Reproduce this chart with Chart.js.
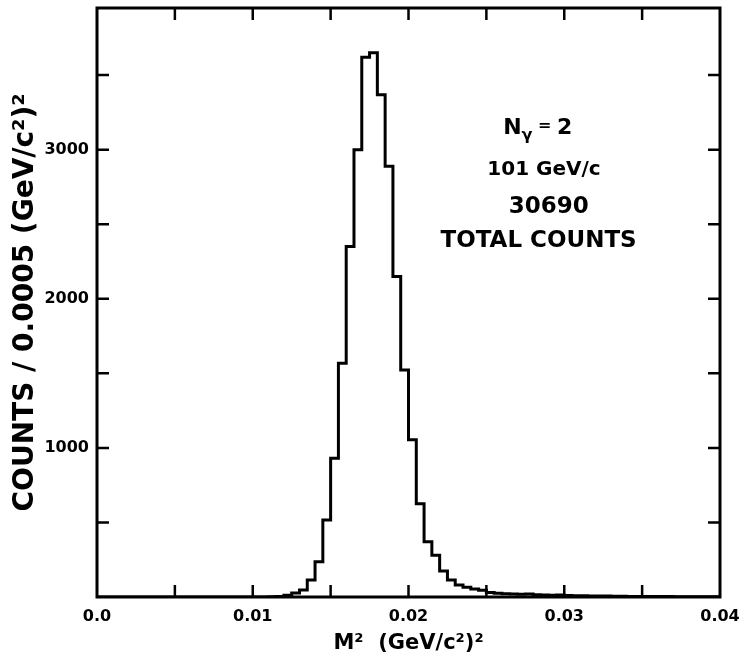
<!DOCTYPE html>
<html>
<head>
<meta charset="utf-8">
<script src="https://cdn.jsdelivr.net/npm/chart.js@4"></script>
<style>
  html, body { margin: 0; padding: 0; background: #fff; }
  #wrap { width: 745px; height: 663px; }
</style>
</head>
<body>
<div id="wrap"><canvas id="histChart"></canvas></div>
<script>
/* DADOS */
const binWidth = 0.0005;
// counts per 0.0005 bin, bins starting at 0.0, 0.0005, ... 0.0395
const counts = [
  0, 0, 0, 0, 0, 0, 0, 0, 0, 0,
  0, 0, 0, 0, 0, 0, 0, 0, 0, 0,
  0, 0, 1, 4, 12, 27, 47, 114, 237, 517,
  931, 1568, 2351, 3000, 3620, 3650, 3369, 2888, 2150, 1523,
  1054, 625, 371, 280, 175, 114, 80, 65, 54, 45,
  30, 25, 22, 20, 18, 20, 15, 14, 12, 14,
  10, 9, 8, 7, 6, 6, 5, 5, 4, 4,
  4, 3, 3, 3, 2, 2, 2, 2, 2, 2
];
const xTickValues = [0, 0.005, 0.01, 0.015, 0.02, 0.025, 0.03, 0.035, 0.04];
const xTickLabels = ['0.0', '', '0.01', '', '0.02', '', '0.03', '', '0.04'];
const yTickValues = [0, 500, 1000, 1500, 2000, 2500, 3000, 3500];
const yTickLabels = ['', '', '1000', '', '2000', '', '3000', ''];
const infoLines = ['101 GeV/c', '30690', 'TOTAL COUNTS'];

const X_MIN = 0, X_MAX = 0.04;
const Y_MIN = 0, Y_MAX = 3950;
const FONT = '"DejaVu Sans", sans-serif';

/* PONTOS */
const points = counts.map((c, i) => ({ x: i * binWidth, y: c }));
points.push({ x: counts.length * binWidth, y: counts[counts.length - 1] });

/* PLUGIN: moldura, ticks internos e texto */
const framePlugin = {
  id: 'frame',
  afterDraw(chart) {
    const { ctx, chartArea: a, scales } = chart;
    const xs = scales.x, ys = scales.y;
    const tick = 12;
    ctx.save();
    ctx.strokeStyle = '#000';
    ctx.lineWidth = 3;
    ctx.strokeRect(a.left, a.top, a.right - a.left, a.bottom - a.top);

    ctx.lineWidth = 2.5;
    ctx.beginPath();
    xTickValues.forEach(v => {
      if (v <= X_MIN || v >= X_MAX) return;
      const px = xs.getPixelForValue(v);
      ctx.moveTo(px, a.bottom);
      ctx.lineTo(px, a.bottom - tick);
      ctx.moveTo(px, a.top);
      ctx.lineTo(px, a.top + tick);
    });
    yTickValues.forEach(v => {
      if (v <= Y_MIN) return;
      const py = ys.getPixelForValue(v);
      ctx.moveTo(a.left, py);
      ctx.lineTo(a.left + tick, py);
      ctx.moveTo(a.right, py);
      ctx.lineTo(a.right - tick, py);
    });
    ctx.stroke();

    // texto
    ctx.fillStyle = '#000';
    ctx.textBaseline = 'middle';
    // N_gamma = 2
    const cx0 = xs.getPixelForValue(0.0283);
    const y0 = ys.getPixelForValue(3145);
    const big = 'bold 22px ' + FONT, small = 'bold 16px ' + FONT;
    ctx.font = big;
    const wN = ctx.measureText('N').width;
    const w2 = ctx.measureText('2').width;
    ctx.font = small;
    const wG = ctx.measureText('\u03B3').width;
    const wE = ctx.measureText(' = ').width;
    let sx = cx0 - (wN + wG + wE + w2) / 2;
    ctx.textAlign = 'left';
    ctx.font = big;
    ctx.fillText('N', sx, y0);
    ctx.font = small;
    ctx.fillText('\u03B3', sx + wN, y0 + 8);
    ctx.fillText(' = ', sx + wN + wG, y0 - 2);
    ctx.font = big;
    ctx.fillText('2', sx + wN + wG + wE, y0);

    ctx.textAlign = 'center';
    ctx.font = 'bold 20px ' + FONT;
    ctx.fillText(infoLines[0], xs.getPixelForValue(0.0287), ys.getPixelForValue(2865));
    ctx.font = 'bold 23px ' + FONT;
    ctx.fillText(infoLines[1], xs.getPixelForValue(0.0290), ys.getPixelForValue(2615));
    ctx.fillText(infoLines[2], xs.getPixelForValue(0.02835), ys.getPixelForValue(2388));
    ctx.restore();
  }
};

/* GRÁFICO */
const ctx = document.getElementById('histChart').getContext('2d');

const histChart = new Chart(ctx, {
  type: 'line',
  data: {
    datasets: [{
      data: points,
      stepped: 'before',
      borderColor: '#000',
      borderWidth: 3,
      pointRadius: 0,
      fill: false
    }]
  },
  options: {
    responsive: true,
    maintainAspectRatio: false,
    animation: false,
    layout: { padding: { top: 8, right: 25, left: 0, bottom: 0 } },
    plugins: {
      legend: { display: false },
      tooltip: { enabled: false }
    },
    scales: {
      x: {
        type: 'linear',
        min: X_MIN,
        max: X_MAX,
        bounds: 'data',
        grid: { display: false, drawTicks: false },
        border: { display: false },
        afterBuildTicks: s => { s.ticks = xTickValues.map(v => ({ value: v })); },
        ticks: {
          autoSkip: false,
          maxRotation: 0,
          padding: 10,
          color: '#000',
          font: { family: FONT, size: 16, weight: 'bold' },
          callback: (v, i) => xTickLabels[i]
        },
        title: {
          display: true,
          text: 'M\u00B2  (GeV/c\u00B2)\u00B2',
          color: '#000',
          font: { family: FONT, size: 21, weight: 'bold' },
          padding: { top: 0, bottom: 7 }
        },
        afterFit: s => { s.height = 66; s.paddingLeft = 0; s.paddingRight = 0; }
      },
      y: {
        type: 'linear',
        min: Y_MIN,
        max: Y_MAX,
        bounds: 'data',
        grid: { display: false, drawTicks: false },
        border: { display: false },
        afterBuildTicks: s => { s.ticks = yTickValues.map(v => ({ value: v })); },
        ticks: {
          autoSkip: false,
          padding: 8,
          color: '#000',
          font: { family: FONT, size: 16, weight: 'bold' },
          callback: (v, i) => yTickLabels[i]
        },
        title: {
          display: true,
          text: 'COUNTS / 0.0005 (GeV/c\u00B2)\u00B2',
          color: '#000',
          font: { family: FONT, size: 28, weight: 'bold' },
          padding: { top: 9, bottom: 0 }
        },
        afterFit: s => { s.width = 97; s.paddingTop = 0; s.paddingBottom = 0; }
      }
    }
  },
  plugins: [framePlugin]
});
</script>
</body>
</html>
